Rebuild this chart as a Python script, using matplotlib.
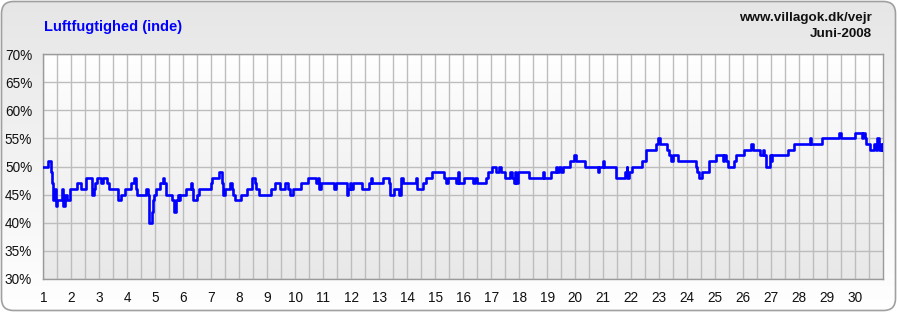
import numpy as np
import matplotlib
matplotlib.use("Agg")
import matplotlib.pyplot as plt
from matplotlib.colors import LinearSegmentedColormap
from matplotlib.patches import FancyBboxPatch

# humidity readings, step changes (day of month, percent)
days = [1.00, 1.18, 1.28, 1.32, 1.36, 1.40, 1.44, 1.50, 1.66, 1.72, 1.77, 1.85, 1.97,
        2.20, 2.35, 2.52, 2.74, 2.80, 2.86, 2.92, 3.05, 3.12, 3.27, 3.35, 3.68, 3.78,
        3.92, 4.12, 4.24, 4.30, 4.35, 4.68, 4.73, 4.79, 4.87, 4.92, 4.96, 5.02, 5.16,
        5.27, 5.33, 5.37, 5.60, 5.68, 5.75, 5.80, 5.86, 5.90, 6.10, 6.26, 6.31, 6.36,
        6.48, 6.58, 6.98, 7.02, 7.26, 7.37, 7.42, 7.50, 7.66, 7.74, 7.78, 7.86, 8.06,
        8.26, 8.46, 8.56, 8.61, 8.70, 9.12, 9.28, 9.46, 9.62, 9.76, 9.82, 9.92, 10.22,
        10.45, 10.74, 10.80, 10.86, 10.92, 11.38, 11.46, 11.84, 11.90, 11.96, 12.00,
        12.08, 12.38, 12.62, 12.70, 12.76, 13.12, 13.34, 13.40, 13.54, 13.72, 13.78,
        13.86, 14.30, 14.35, 14.58, 14.66, 14.90, 15.30, 15.40, 15.46, 15.74, 15.80,
        15.86, 16.04, 16.36, 16.42, 16.48, 16.80, 16.88, 17.04, 17.16, 17.28, 17.34,
        17.50, 17.68, 17.74, 17.80, 17.85, 17.90, 17.95, 18.36, 18.84, 18.90, 19.14,
        19.30, 19.37, 19.43, 19.49, 19.58, 19.82, 19.97, 20.04, 20.36, 20.80, 20.86,
        21.00, 21.04, 21.46, 21.79, 21.84, 21.87, 21.93, 22.05, 22.39, 22.53, 22.88,
        22.97, 23.03, 23.28, 23.36, 23.42, 23.48, 23.66, 24.31, 24.37, 24.43, 24.55,
        24.79, 25.03, 25.27, 25.33, 25.39, 25.45, 25.68, 25.74, 26.04, 26.30, 26.34,
        26.60, 26.72, 26.76, 26.81, 26.96, 26.99, 27.05, 27.62, 27.83, 28.39, 28.43,
        28.81, 29.43, 29.49, 30.00, 30.24, 30.29, 30.34, 30.39, 30.53, 30.68, 30.74,
        30.80, 30.86, 30.92, 30.96, 31.00]
humidity = [50, 51, 49, 47, 44, 46, 43, 44, 46, 43, 45, 44, 46,
            47, 46, 48, 45, 46, 47, 48, 47, 48, 47, 46, 44, 45,
            46, 47, 48, 46, 45, 46, 45, 40, 42, 44, 45, 46, 47,
            48, 47, 45, 44, 42, 44, 45, 44, 45, 46, 47, 46, 44,
            45, 46, 47, 48, 49, 47, 45, 46, 47, 46, 45, 44, 45,
            46, 48, 47, 46, 45, 46, 47, 46, 47, 46, 45, 46, 47,
            48, 47, 48, 46, 47, 46, 47, 45, 46, 47, 46,
            47, 46, 47, 48, 47, 48, 47, 45, 46, 45, 48,
            47, 48, 46, 47, 48, 49, 48, 47, 48, 47, 49,
            47, 48, 47, 48, 47, 48, 49, 50, 49, 50, 49,
            48, 49, 48, 47, 49, 47, 49, 48, 49, 48, 49,
            50, 49, 50, 49, 50, 51, 52, 51, 50, 49, 50,
            51, 50, 48, 49, 50, 48, 49, 50, 51, 53, 54,
            55, 54, 53, 52, 51, 52, 51, 50, 49, 48, 49,
            51, 52, 51, 52, 51, 50, 51, 52, 53, 54, 53,
            52, 53, 52, 50, 52, 51, 52, 53, 54, 55, 54,
            55, 56, 55, 56, 55, 56, 55, 54, 53, 54, 53,
            55, 53, 54, 53, 54]

day_ticks = list(range(1, 31))
pct_ticks = [30, 35, 40, 45, 50, 55, 60, 65, 70]

W, H = 897, 312
fig = plt.figure(figsize=(W / 100, H / 100), dpi=100)
fig.patch.set_facecolor("white")

# outer rounded panel with vertical gradient
bg = fig.add_axes([0, 0, 1, 1])
bg.set_xlim(0, W)
bg.set_ylim(0, H)
bg.axis("off")
grad = np.linspace(0, 1, 256).reshape(-1, 1)
outer_cmap = LinearSegmentedColormap.from_list("outer", ["#ffffff", "#e6e6e6"])
im = bg.imshow(grad, extent=[0, W, 0, H], cmap=outer_cmap, aspect="auto", origin="lower")
frame = FancyBboxPatch((1.5, 1.5), W - 3, H - 3, boxstyle="round,pad=0,rounding_size=12",
                       facecolor="none", edgecolor="#a0a0a0", linewidth=1.2)
bg.add_patch(frame)
im.set_clip_path(frame)

bg.text(44, 285, "Luftfugtighed (inde)", color="#0000ff", fontsize=10.5,
        fontweight="bold", family="Liberation Sans", va="center", ha="left")
bg.text(872, 294, "www.villagok.dk/vejr", color="#111111", fontsize=9.7,
        fontweight="bold", family="Liberation Sans", va="center", ha="right")
bg.text(872, 278, "Juni-2008", color="#111111", fontsize=9.7,
        fontweight="bold", family="Liberation Sans", va="center", ha="right")

# plot area
ax = fig.add_axes([43.3 / W, 1 - 279 / H, (883 - 43.3) / W, (279 - 54) / H])
inner_cmap = LinearSegmentedColormap.from_list("inner", ["#e8e8e8", "#ffffff"])
ax.imshow(grad, extent=[1, 31, 30, 70], cmap=inner_cmap, aspect="auto",
          origin="lower", zorder=0)

ax.plot(days, humidity, drawstyle="steps-post", color="#0000ff", lw=1.9, zorder=3)

ax.set_xlim(1, 31)
ax.set_ylim(30, 70)
ax.set_xticks(day_ticks)
ax.set_xticks(np.arange(1.5, 31, 1), minor=True)
ax.set_yticks(pct_ticks)
ax.set_yticklabels([f"{p}%" for p in pct_ticks])
ax.grid(True, which="both", axis="x", color="#bdbdbd", lw=1)
ax.grid(True, which="major", axis="y", color="#bdbdbd", lw=1)
ax.set_axisbelow(True)
ax.tick_params(which="both", length=0)
ax.tick_params(axis="x", pad=9)
ax.tick_params(axis="y", pad=8)
for lab in ax.get_xticklabels() + ax.get_yticklabels():
    lab.set_fontfamily("Liberation Sans")
    lab.set_fontsize(9.8)
    lab.set_color("#111111")
for s in ax.spines.values():
    s.set_color("#9a9a9a")
    s.set_linewidth(1)

fig.savefig("out.png", dpi=100)
